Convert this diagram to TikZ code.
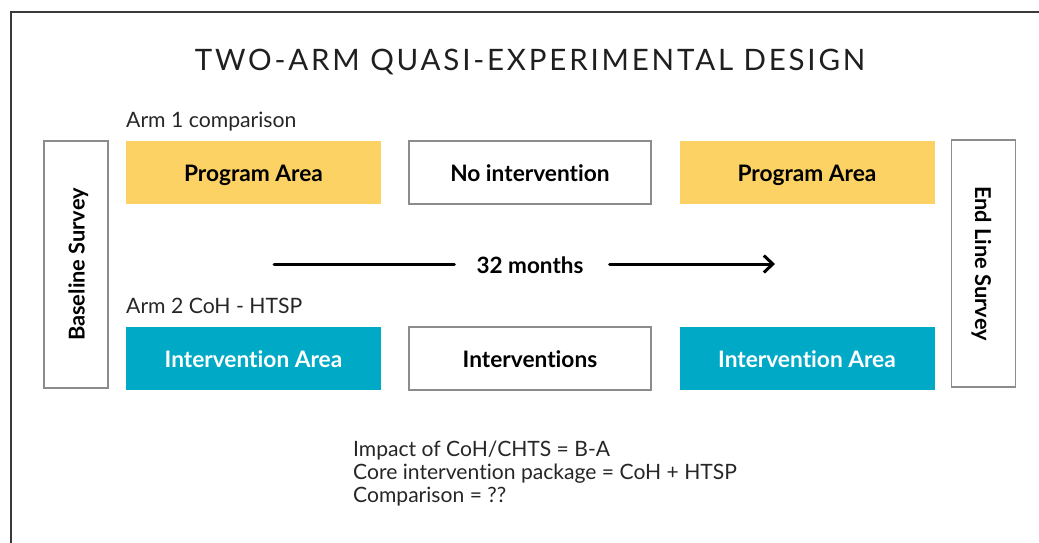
\documentclass[tikz,border=0pt]{standalone}
\usepackage{fontspec}
\setmainfont{Lato}[Ligatures=NoCommon]
\usetikzlibrary{arrows.meta}
\definecolor{progyellow}{HTML}{FDD264}
\definecolor{intteal}{HTML}{00AAC6}
\definecolor{boxgray}{HTML}{8C8C8C}
\definecolor{framegray}{HTML}{3A3A3A}
\tikzset{
  areabox/.style={minimum width=255pt, minimum height=63pt, inner sep=0pt,
    text height=17pt, text depth=0pt,
    font=\bfseries\fontsize{22.7}{26}\selectfont},
  yellowbox/.style={areabox, fill=progyellow, text=black},
  tealbox/.style={areabox, fill=intteal, text=white},
  plainbox/.style={areabox, minimum width=242pt, draw=boxgray, line width=1.6pt, fill=white, text=black},
  surveybox/.style={minimum width=247pt, minimum height=64pt, inner sep=0pt,
    text height=17pt, text depth=0pt,
    draw=boxgray, line width=1.6pt, fill=white, font=\bfseries\fontsize{21.8}{25}\selectfont},
  armlabel/.style={anchor=base west, inner sep=0pt, font=\fontsize{21.2}{25}\selectfont, text=black!85},
  timeline/.style={line width=3pt, black},
}
\begin{document}
\begin{tikzpicture}[x=1pt,y=-1pt]
\useasboundingbox (0,0) rectangle (1039,542);
% outer frame (only top and left edges fall inside the page)
\draw[framegray, line width=1.5pt] (11,560) -- (11,12) -- (1060,12);

% title
\node[anchor=base, inner sep=0pt, font=\fontsize{29.5}{34}\selectfont, text=black!88] (title) at (530,70)
  {\addfontfeatures{LetterSpace=9.5}TWO-ARM QUASI-EXPERIMENTAL DESIGN};

% arm labels
\node[armlabel] (arm1) at (126,127) {Arm 1 comparison};
\node[armlabel] (arm2) at (126,313) {Arm 2 CoH - HTSP};

% survey boxes
\node[surveybox, rotate=90] (base) at (76,264.5) {Baseline Survey};
\node[surveybox, rotate=-90] (endl) at (983.5,263.5) {End Line Survey};

% arm 1 row
\node[yellowbox] (p1) at (253.5,172.5) {Program Area};
\node[plainbox] (noint) at (530,172.5) {No intervention};
\node[yellowbox] (p2) at (807,172.5) {Program Area};

% arm 2 row
\node[tealbox] (i1) at (253.5,358.5) {Intervention Area};
\node[plainbox] (ints) at (530,358.5) {Interventions};
\node[tealbox] (i2) at (807,358.5) {Intervention Area};

% timeline
\node[font=\bfseries\fontsize{22.5}{26}\selectfont, inner sep=0pt, anchor=base] (months) at (530,273) {32 months};
\coordinate (tstart) at (274,264);
\coordinate (tend) at (775,264);
\coordinate (gapL) at ([xshift=-22pt]months.west);
\coordinate (gapR) at ([xshift=26pt]months.east);
\draw[timeline, line cap=round] (tstart) -- (tstart -| gapL);
\draw[timeline, line cap=round, -{Straight Barb[length=9pt, width=17pt, line width=3pt]}]
  (tend -| gapR) -- (tend);

% notes (base anchor sits on the last line)
\node[anchor=base west, inner sep=0pt, align=left, font=\fontsize{21.1}{23}\selectfont, text=black!85] (notes) at (353,502)
  {Impact of CoH/CHTS = B-A\\Core intervention package = CoH + HTSP\\Comparison = ??};
\end{tikzpicture}
\end{document}
